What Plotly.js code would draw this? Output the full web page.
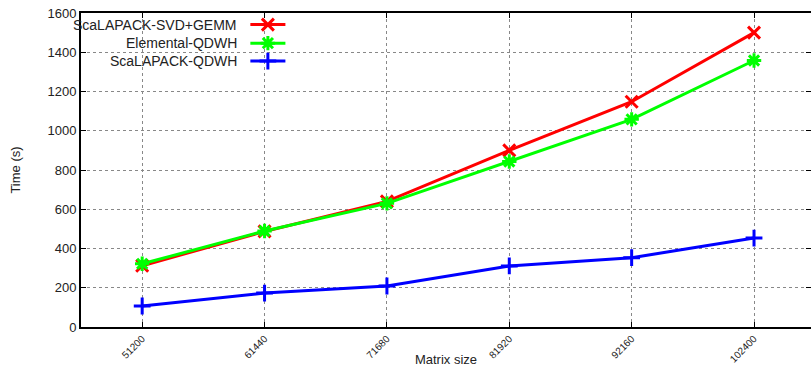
<!DOCTYPE html>
<html><head><meta charset="utf-8">
<script src="https://cdn.plot.ly/plotly-3.0.1.min.js"></script>
<style>html,body{margin:0;padding:0;background:#fff;}#chart{width:811px;height:367px;}</style>
</head><body><div id="chart"></div>
<script>
const matrixSizes = [51200, 61440, 71680, 81920, 92160, 102400];
const tickLabels = ["51200", "61440", "71680", "81920", "92160", "102400"];
const svdGemm = [312, 487, 640, 900, 1148, 1500];
const elementalQdwh = [322, 489, 630, 843, 1058, 1358];
const scalapackQdwh = [107, 173, 209, 311, 353, 453];
const seriesNames = ["ScaLAPACK-SVD+GEMM", "Elemental-QDWH", "ScaLAPACK-QDWH"];

const colors = ["#ff0000", "#00ff00", "#0000ff"];
const symbols = ["x-thin-open", "asterisk-open", "cross-thin-open"];
const values = [svdGemm, elementalQdwh, scalapackQdwh];

const traces = values.map((v, i) => ({
  x: matrixSizes, y: v, type: "scatter", mode: "lines+markers",
  name: seriesNames[i], showlegend: false,
  line: {color: colors[i], width: 3},
  marker: {symbol: symbols[i], size: 12, color: colors[i], line: {color: colors[i], width: 3}}
}));

// legend samples (in paper coordinates via an overlay axis)
const legendY = [0.963, 0.904, 0.847];
const legendXText = 0.217;
const shapes = [];
const annotations = [];
values.forEach((v, i) => {
  shapes.push({type: "line", xref: "paper", yref: "paper", x0: 0.232, x1: 0.280, y0: legendY[i], y1: legendY[i],
    line: {color: colors[i], width: 3}});
  annotations.push({xref: "paper", yref: "paper", x: legendXText, y: legendY[i], xanchor: "right", yanchor: "middle",
    text: seriesNames[i], showarrow: false, font: {family: "Liberation Sans, Arial, sans-serif", size: 14, color: "#222"}});
  traces.push({x: [0.256], y: [legendY[i]], xaxis: "x2", yaxis: "y2", type: "scatter", mode: "markers", showlegend: false,
    hoverinfo: "skip",
    marker: {symbol: symbols[i], size: 12, color: colors[i], line: {color: colors[i], width: 3}}});
});

const layout = {
  width: 811, height: 367,
  margin: {l: 81, r: 0, t: 13, b: 40},
  paper_bgcolor: "#fff", plot_bgcolor: "#fff",
  font: {family: "Liberation Sans, Arial, sans-serif", size: 13, color: "#222"},
  showlegend: false,
  xaxis: {
    range: [46080, 107168], tickvals: matrixSizes, ticktext: tickLabels, tickangle: -45,
    tickfont: {size: 10}, showgrid: true, gridcolor: "#888", griddash: "dot", gridwidth: 1,
    showline: true, linecolor: "#000", linewidth: 2, mirror: "ticks",
    ticks: "inside", ticklen: 5, tickcolor: "#000", zeroline: false,
    title: {text: "Matrix size", font: {size: 13}, standoff: 8}
  },
  yaxis: {
    range: [0, 1600], dtick: 200, showgrid: true, gridcolor: "#888", griddash: "dot", gridwidth: 1,
    showline: true, linecolor: "#000", linewidth: 2, mirror: "ticks",
    ticks: "inside", ticklen: 5, tickcolor: "#000", zeroline: false,
    title: {text: "Time (s)", font: {size: 13}, standoff: 24}
  },
  xaxis2: {overlaying: "x", range: [0, 1], visible: false, domain: [0, 1]},
  yaxis2: {overlaying: "y", range: [0, 1], visible: false},
  shapes: shapes, annotations: annotations
};
Plotly.newPlot("chart", traces, layout, {staticPlot: true, displayModeBar: false});
</script></body></html>
